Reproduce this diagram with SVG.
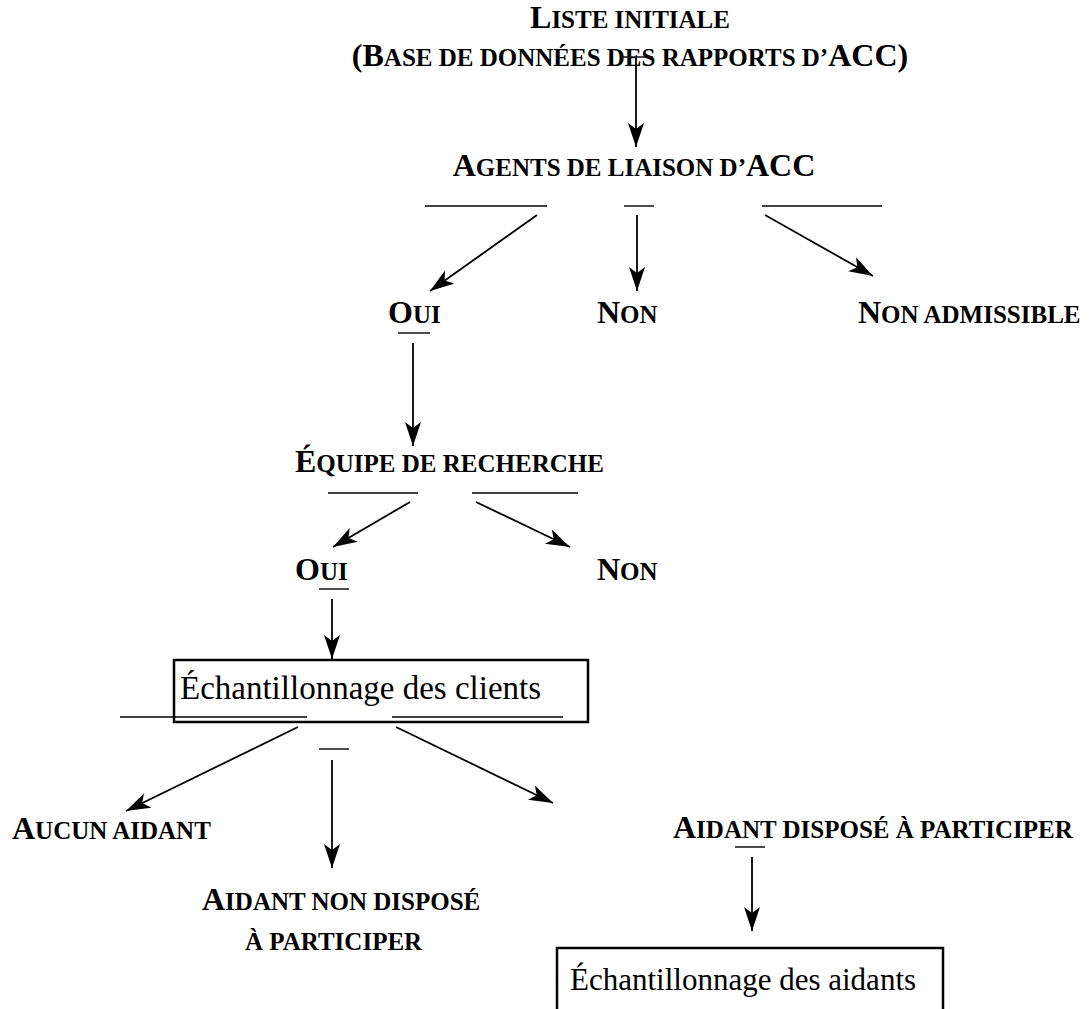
<svg xmlns="http://www.w3.org/2000/svg" width="1091" height="1009" viewBox="0 0 1091 1009">
<style>
.sc { font-family: "Liberation Serif", "Times New Roman", serif; font-weight: bold; font-size: 25px; fill: #000; }
.big { font-size: 32px; }
.box { font-family: "Liberation Serif", "Times New Roman", serif; font-size: 33px; fill: #000; }
.ln { stroke: #000; stroke-width: 1.4; fill: none; }
.ar { stroke: #000; stroke-width: 1.8; fill: none; marker-end: url(#ah); }
.rect { stroke: #000; stroke-width: 2.5; fill: none; }
</style>
<defs>
<marker id="ah" markerUnits="userSpaceOnUse" markerWidth="26" markerHeight="18" refX="24" refY="8" orient="auto">
<path d="M0,0 L24,8 L0,16 L6,8 z" fill="#000"/>
</marker>
</defs>
<rect width="1091" height="1009" fill="#fff"/>

<g id="connectors">
<line class="ln" x1="622" y1="57" x2="653" y2="57"/>
<line class="ar" x1="636" y1="57" x2="636" y2="147"/>
<line class="ln" x1="425" y1="206" x2="547" y2="206"/>
<line class="ln" x1="624" y1="206" x2="654" y2="206"/>
<line class="ln" x1="762" y1="206" x2="882" y2="206"/>
<line class="ar" x1="537" y1="215" x2="430" y2="291"/>
<line class="ar" x1="637" y1="215" x2="637" y2="291"/>
<line class="ar" x1="765" y1="215" x2="873" y2="276"/>
<line class="ln" x1="398" y1="333" x2="430" y2="333"/>
<line class="ar" x1="413" y1="343" x2="413" y2="446"/>
<line class="ln" x1="328" y1="493" x2="418" y2="493"/>
<line class="ln" x1="472" y1="493" x2="578" y2="493"/>
<line class="ar" x1="410" y1="502" x2="333" y2="547"/>
<line class="ar" x1="476" y1="502" x2="570" y2="547"/>
<line class="ln" x1="319" y1="589" x2="349" y2="589"/>
<line class="ar" x1="332" y1="599" x2="332" y2="659"/>
<line class="ln" x1="120" y1="717" x2="307" y2="717"/>
<line class="ln" x1="392" y1="717" x2="563" y2="717"/>
<line class="ln" x1="319" y1="749" x2="349" y2="749"/>
<line class="ar" x1="298" y1="727" x2="126" y2="811"/>
<line class="ar" x1="332" y1="760" x2="332" y2="868"/>
<line class="ar" x1="396" y1="727" x2="553" y2="803"/>
<line class="ln" x1="735" y1="847" x2="765" y2="847"/>
<line class="ar" x1="752" y1="857" x2="752" y2="931"/>
</g>

<g id="n-liste">
<text class="sc" x="630" y="28" text-anchor="middle"><tspan class="big">L</tspan>ISTE INITIALE</text>
<text class="sc" x="630" y="66" text-anchor="middle"><tspan class="big">(B</tspan>ASE DE DONNÉES DES RAPPORTS D’<tspan class="big">ACC)</tspan></text>
</g>
<g id="n-agents">
<text class="sc" x="634" y="176" text-anchor="middle"><tspan class="big">A</tspan>GENTS DE LIAISON D’<tspan class="big">ACC</tspan></text>
</g>
<g id="n-oui1"><text class="sc" x="388" y="323"><tspan class="big">O</tspan>UI</text></g>
<g id="n-non1"><text class="sc" x="597" y="323"><tspan class="big">N</tspan>ON</text></g>
<g id="n-nonadm"><text class="sc" x="858" y="323"><tspan class="big">N</tspan>ON ADMISSIBLE</text></g>
<g id="n-equipe"><text class="sc" x="295" y="472"><tspan class="big">É</tspan>QUIPE DE RECHERCHE</text></g>
<g id="n-oui2"><text class="sc" x="295" y="580"><tspan class="big">O</tspan>UI</text></g>
<g id="n-non2"><text class="sc" x="597" y="580"><tspan class="big">N</tspan>ON</text></g>
<g id="n-clients">
<rect class="rect" x="174" y="660" width="414" height="62"/>
<text class="box" x="180" y="699">Échantillonnage des clients</text>
</g>
<g id="n-aucun"><text class="sc" x="12" y="839"><tspan class="big">A</tspan>UCUN AIDANT</text></g>
<g id="n-nondispose">
<text class="sc" x="202" y="910"><tspan class="big">A</tspan>IDANT NON DISPOSÉ</text>
<text class="sc" x="245" y="950">À PARTICIPER</text>
</g>
<g id="n-dispose"><text class="sc" x="673" y="838"><tspan class="big">A</tspan>IDANT DISPOSÉ À PARTICIPER</text></g>
<g id="n-aidants">
<rect class="rect" x="557" y="948" width="386" height="72"/>
<text class="box" x="570" y="990" style="font-size:31px">Échantillonnage des aidants</text>
</g>
</svg>
